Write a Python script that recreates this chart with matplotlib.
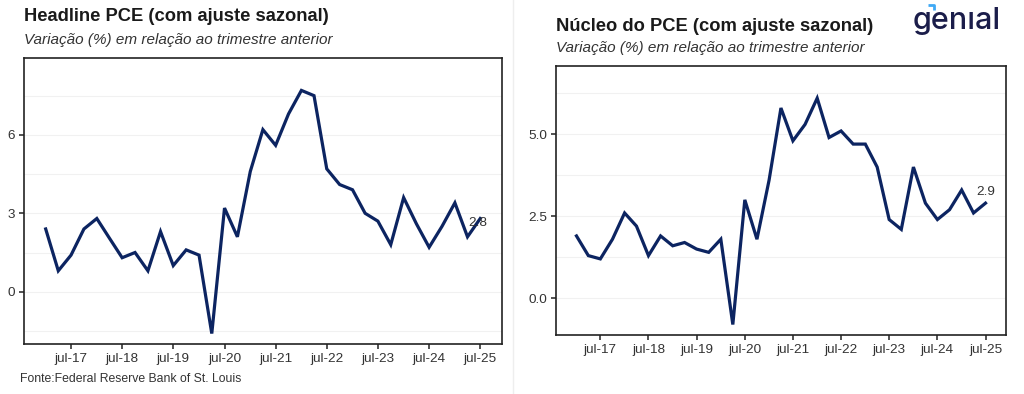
"""Headline PCE and core PCE, quarterly annualised change (two panels)."""

import matplotlib

matplotlib.use("Agg")

import matplotlib.pyplot as plt
import matplotlib.ticker as mticker
import numpy as np
import pandas as pd
from matplotlib.lines import Line2D


plt.rcParams["font.family"] = ["Liberation Sans", "DejaVu Sans"]

LINE_COLOR = "#0c2461"
TEXT_COLOR = "#333333"

# quarterly observations 2017Q1 .. 2025Q3 (dated at quarter start)
quarters = pd.date_range("2017-01-01", periods=35, freq="QS")

headline_pce = [
    2.4, 0.8, 1.4, 2.4,
    2.8, 2.05, 1.3, 1.5,
    0.8, 2.3, 1.0, 1.6,
    1.4, -1.6, 3.2, 2.1,
    4.6, 6.2, 5.6, 6.8,
    7.7, 7.5, 4.7, 4.1,
    3.9, 3.0, 2.7, 1.8,
    3.6, 2.6, 1.7, 2.5,
    3.4, 2.1, 2.8,
]

core_pce = [
    1.9, 1.3, 1.2, 1.8,
    2.6, 2.2, 1.3, 1.9,
    1.6, 1.7, 1.5, 1.4,
    1.8, -0.8, 3.0, 1.8,
    3.6, 5.8, 4.8, 5.3,
    6.1, 4.9, 5.1, 4.7,
    4.7, 4.0, 2.4, 2.1,
    4.0, 2.9, 2.4, 2.7,
    3.3, 2.6, 2.9,
]

tick_years = list(range(2017, 2026))
headline_ticks = [0, 3, 6]
core_ticks = [0.0, 2.5, 5.0]


def _style_axis(ax, values, yticks, ylim, minor_step, fmt):
    ax.plot(quarters, values, color=LINE_COLOR, linewidth=2.3, solid_joinstyle="miter", zorder=3)
    ax.margins(x=0.05)
    ax.set_ylim(*ylim)
    ax.set_yticks(yticks)
    ax.yaxis.set_major_formatter(mticker.FormatStrFormatter(fmt))
    minor = np.arange(yticks[0] - minor_step, ylim[1], 2 * minor_step)
    ax.set_yticks([m for m in minor if ylim[0] < m < ylim[1]], minor=True)

    xt = [pd.Timestamp(f"{y}-07-01") for y in tick_years]
    ax.set_xticks(xt)
    ax.set_xticklabels([f"jul-{y % 100:02d}" for y in tick_years])

    ax.grid(which="both", axis="y", color="#f1f1f1", linewidth=0.8, zorder=0)
    ax.tick_params(axis="both", which="major", length=3.5, width=1.1, color="#222222",
                   labelsize=9.7, labelcolor=TEXT_COLOR, pad=3)
    ax.tick_params(axis="y", which="minor", length=0)
    ax.tick_params(axis="x", which="minor", length=0)
    for spine in ax.spines.values():
        spine.set_color("#222222")
        spine.set_linewidth(1.2)


fig = plt.figure(figsize=(10.24, 3.94), dpi=100)
fig.patch.set_facecolor("white")

ax1 = fig.add_axes([0.0234, 0.1269, 0.4668, 0.7259])
_style_axis(ax1, headline_pce, headline_ticks, (-2.0, 8.94), 1.5, "%g")
ax1.annotate(f"{headline_pce[-1]:.1f}", (quarters[-1], headline_pce[-1]),
             xytext=(-2, -3), textcoords="offset points", ha="center", va="center",
             fontsize=9.7, color=TEXT_COLOR, zorder=4)

ax2 = fig.add_axes([0.5430, 0.1497, 0.4394, 0.6836])
_style_axis(ax2, core_pce, core_ticks, (-1.12, 7.09), 1.25, "%.1f")
ax2.annotate(f"{core_pce[-1]:.1f}", (quarters[-1], core_pce[-1]),
             xytext=(0, 8), textcoords="offset points", ha="center", va="center",
             fontsize=9.7, color=TEXT_COLOR, zorder=4)

# titles
fig.text(0.0234, 0.957, "Headline PCE (com ajuste sazonal)", fontsize=13.2,
         fontweight="bold", color="#1a1a1a", va="center", ha="left")
fig.text(0.0234, 0.898, "Variação (%) em relação ao trimestre anterior", fontsize=11,
         style="italic", color=TEXT_COLOR, va="center", ha="left")
fig.text(0.5430, 0.934, "Núcleo do PCE (com ajuste sazonal)", fontsize=13.2,
         fontweight="bold", color="#1a1a1a", va="center", ha="left")
fig.text(0.5430, 0.878, "Variação (%) em relação ao trimestre anterior", fontsize=11,
         style="italic", color=TEXT_COLOR, va="center", ha="left")

fig.text(0.0195, 0.038, "Fonte:Federal Reserve Bank of St. Louis", fontsize=8.8,
         color=TEXT_COLOR, va="center", ha="left")

# divider between the panels
fig.add_artist(Line2D([0.5005, 0.5005], [0.0, 1.0], color="#eeeeee", linewidth=1.0))

# logo
fig.text(0.8915, 0.9264, "gen\u0131al", fontsize=22, family=["Inter", "DejaVu Sans"],
         fontweight="medium", color="#1b1d4a", va="baseline", ha="left")
fig.add_artist(Line2D([928 / 1024, 934 / 1024, 934 / 1024],
                      [1 - 5 / 394, 1 - 5 / 394, 1 - 10 / 394],
                      color="#3fa9f5", linewidth=2.0, solid_capstyle="butt"))

fig.savefig("out.png", dpi=100, facecolor=fig.get_facecolor())
